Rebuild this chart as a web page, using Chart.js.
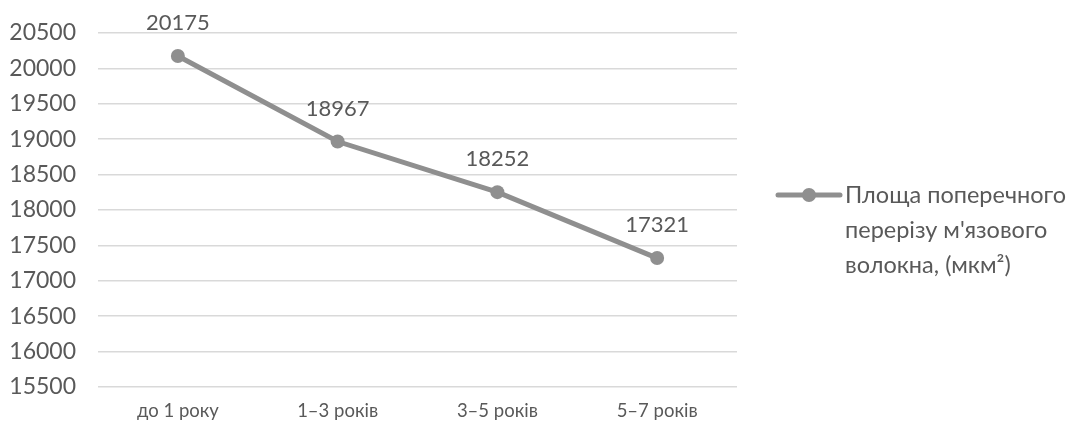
<!DOCTYPE html>
<html>
<head>
<meta charset="utf-8">
<script src="https://cdn.jsdelivr.net/npm/chart.js@4/dist/chart.umd.min.js"></script>
<style>
  html, body { margin: 0; padding: 0; background: #fff; }
  #wrap { width: 1073px; height: 426px; }
</style>
</head>
<body>
<div id="wrap"><canvas id="chart"></canvas></div>
<script>
// дані з графіка
const categories = ["до 1 року", "1–3 років", "3–5 років", "5–7 років"];
const areaValues = [20175, 18967, 18252, 17321];
const seriesName = ["Площа поперечного", "перерізу м'язового", "волокна, (мкм²)"];
const yMin = 15500;
const yMax = 20500;
const yStep = 500;

const FONT = "Lato, sans-serif";
const TEXT = "#595959";
const LINE = "#8f8f8f";

// підписи значень над точками
const valueLabels = {
  id: "valueLabels",
  afterDatasetsDraw(chart) {
    const ctx = chart.ctx;
    const meta = chart.getDatasetMeta(0);
    ctx.save();
    ctx.font = "22px " + FONT;
    ctx.fillStyle = TEXT;
    ctx.textAlign = "center";
    ctx.textBaseline = "middle";
    meta.data.forEach((pt, i) => {
      ctx.fillText(String(areaValues[i]), pt.x, pt.y - 33);
    });
    ctx.restore();
  }
};

// легенда праворуч, у три рядки
const sideLegend = {
  id: "sideLegend",
  afterDraw(chart) {
    const ctx = chart.ctx;
    const x0 = 778, y0 = 195;
    ctx.save();
    ctx.strokeStyle = LINE;
    ctx.lineWidth = 5;
    ctx.lineCap = "round";
    ctx.beginPath();
    ctx.moveTo(x0, y0);
    ctx.lineTo(x0 + 62, y0);
    ctx.stroke();
    ctx.fillStyle = LINE;
    ctx.beginPath();
    ctx.arc(x0 + 31, y0, 7, 0, Math.PI * 2);
    ctx.fill();
    ctx.font = "23.5px " + FONT;
    ctx.fillStyle = TEXT;
    ctx.textAlign = "left";
    ctx.textBaseline = "middle";
    seriesName.forEach((s, i) => ctx.fillText(s, x0 + 67, y0 + i * 35));
    ctx.restore();
  }
};

function draw() {
  new Chart(document.getElementById("chart"), {
    type: "line",
    data: {
      labels: categories,
      datasets: [{
        label: seriesName.join(" "),
        data: areaValues,
        borderColor: LINE,
        backgroundColor: LINE,
        borderWidth: 5,
        pointRadius: 7,
        pointHoverRadius: 7,
        pointBackgroundColor: LINE,
        pointBorderWidth: 0,
        tension: 0
      }]
    },
    options: {
      responsive: true,
      maintainAspectRatio: false,
      animation: false,
      layout: { padding: { top: 33, right: 336, left: 0, bottom: 0 } },
      plugins: {
        legend: { display: false },
        tooltip: { enabled: false }
      },
      scales: {
        x: {
          offset: true,
          grid: { display: false, drawTicks: false },
          border: { display: false },
          ticks: { color: TEXT, font: { family: FONT, size: 18.5 }, padding: 13 },
          afterFit: (s) => { s.height = 39; s.paddingLeft = 0; s.paddingRight = 0; }
        },
        y: {
          min: yMin,
          max: yMax,
          ticks: {
            stepSize: yStep,
            color: TEXT,
            font: { family: FONT, size: 23 },
            padding: 22,
            callback: (v) => String(v)
          },
          grid: { color: "#d9d9d9", lineWidth: 1.5, drawTicks: false },
          border: { display: false },
          afterFit: (s) => { s.width = 98; s.paddingTop = 0; s.paddingBottom = 0; }
        }
      }
    },
    plugins: [valueLabels, sideLegend]
  });
}

// чекаємо шрифт, щоб canvas не малював запасним
document.fonts.load("23px Lato", "Площа 20500").then(draw, draw);
</script>
</body>
</html>
